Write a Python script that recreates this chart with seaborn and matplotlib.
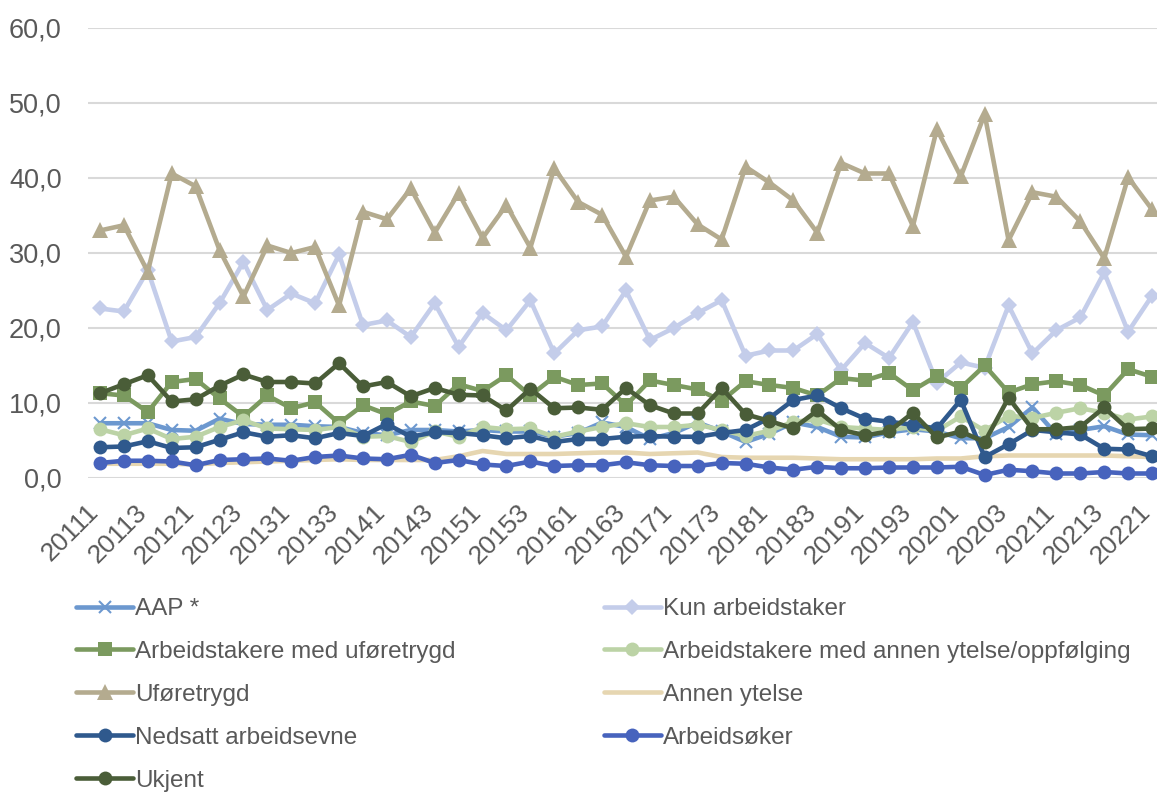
import matplotlib
matplotlib.use("Agg")
import matplotlib.pyplot as plt
import matplotlib.transforms as mtransforms
import numpy as np
import seaborn as sns

quarters = ["20111", "20112", "20113", "20114", "20121", "20122", "20123", "20124",
            "20131", "20132", "20133", "20134", "20141", "20142", "20143", "20144",
            "20151", "20152", "20153", "20154", "20161", "20162", "20163", "20164",
            "20171", "20172", "20173", "20174", "20181", "20182", "20183", "20184",
            "20191", "20192", "20193", "20194", "20201", "20202", "20203", "20204",
            "20211", "20212", "20213", "20214", "20221"]

aap = [7.3, 7.3, 7.3, 6.4, 6.3, 7.9, 7.2, 7.1, 7.1, 6.9, 6.8, 6.0, 5.7, 6.4, 6.4,
       6.2, 6.4, 6.2, 6.2, 5.5, 6.0, 7.4, 6.8, 5.2, 6.0, 7.4, 6.2, 4.8, 5.9, 7.4,
       6.8, 5.5, 5.4, 6.1, 6.5, 6.2, 5.3, 5.3, 6.8, 9.4, 5.8, 6.4, 6.9, 5.8, 5.7]
kun_arbeidstaker = [22.6, 22.2, 27.7, 18.2, 18.8, 23.3, 28.8, 22.4, 24.6, 23.3, 29.8, 20.4, 21.0, 18.8, 23.3,
                    17.5, 22.0, 19.7, 23.7, 16.6, 19.7, 20.2, 25.0, 18.4, 20.0, 22.0, 23.7, 16.3, 17.0, 17.0,
                    19.2, 14.4, 18.0, 16.0, 20.8, 12.7, 15.4, 14.7, 23.0, 16.6, 19.7, 21.4, 27.4, 19.5, 24.3]
arb_ufore = [11.3, 11.0, 8.8, 12.8, 13.2, 10.6, 8.2, 11.0, 9.3, 10.1, 7.3, 9.7, 8.5, 10.2, 9.6,
             12.5, 11.6, 13.7, 11.0, 13.5, 12.4, 12.6, 9.7, 13.0, 12.4, 11.8, 10.3, 12.9, 12.4, 12.0,
             11.0, 13.3, 13.0, 14.0, 11.7, 13.6, 12.0, 15.0, 11.4, 12.5, 12.9, 12.4, 11.0, 14.5, 13.5]
arb_annen = [6.5, 5.7, 6.6, 5.2, 5.5, 6.8, 7.7, 6.6, 6.5, 6.4, 6.8, 5.5, 5.6, 4.8, 6.2,
             5.5, 6.8, 6.5, 6.6, 5.5, 6.2, 6.8, 7.3, 6.8, 6.8, 7.1, 6.4, 5.6, 6.3, 7.5,
             7.8, 6.8, 6.6, 6.4, 6.8, 6.3, 8.2, 6.3, 8.3, 8.0, 8.7, 9.3, 8.7, 7.8, 8.2]
uforetrygd = [33.0, 33.7, 27.5, 40.6, 38.9, 30.4, 24.2, 31.0, 30.0, 30.8, 23.0, 35.5, 34.5, 38.6, 32.7,
              38.0, 32.0, 36.4, 30.7, 41.3, 36.8, 35.1, 29.5, 37.0, 37.5, 33.8, 31.8, 41.5, 39.4, 37.0,
              32.7, 42.0, 40.6, 40.6, 33.6, 46.5, 40.2, 48.5, 31.7, 38.1, 37.5, 34.2, 29.3, 40.1, 35.8]
annen_ytelse = [1.9, 1.9, 1.9, 1.9, 1.8, 2.0, 2.1, 2.2, 2.3, 2.4, 2.5, 2.4, 2.4, 2.4, 2.4,
                2.9, 3.6, 3.2, 3.2, 3.2, 3.3, 3.4, 3.4, 3.2, 3.3, 3.4, 2.8, 2.7, 2.7, 2.7,
                2.6, 2.5, 2.5, 2.5, 2.5, 2.6, 2.6, 2.9, 3.0, 3.0, 3.0, 3.0, 3.0, 2.9, 2.8]
nedsatt = [4.1, 4.2, 4.9, 4.0, 4.1, 5.1, 6.1, 5.5, 5.7, 5.3, 6.0, 5.6, 7.2, 5.5, 6.1,
           6.0, 5.7, 5.3, 5.6, 4.8, 5.2, 5.2, 5.5, 5.6, 5.5, 5.5, 6.0, 6.4, 8.0, 10.4,
           11.0, 9.3, 7.9, 7.5, 7.1, 6.6, 10.4, 2.8, 4.5, 6.4, 6.1, 5.8, 3.9, 3.8, 2.9]
arbeidsoker = [2.0, 2.3, 2.3, 2.2, 1.7, 2.4, 2.5, 2.6, 2.3, 2.8, 3.0, 2.6, 2.5, 3.1, 2.0,
               2.4, 1.8, 1.6, 2.2, 1.6, 1.7, 1.7, 2.1, 1.7, 1.6, 1.6, 2.0, 1.9, 1.4, 1.1,
               1.5, 1.3, 1.3, 1.4, 1.4, 1.4, 1.5, 0.4, 1.1, 0.9, 0.6, 0.6, 0.8, 0.6, 0.6]
ukjent = [11.3, 12.5, 13.7, 10.2, 10.5, 12.3, 13.8, 12.8, 12.8, 12.6, 15.3, 12.2, 12.8, 10.9, 12.0,
          11.1, 11.0, 9.0, 11.9, 9.3, 9.4, 9.1, 12.0, 9.7, 8.6, 8.6, 12.0, 8.5, 7.6, 6.6,
          9.0, 6.4, 5.7, 6.2, 8.7, 5.4, 6.2, 4.8, 10.7, 6.5, 6.5, 6.8, 9.4, 6.5, 6.6]

series = [
    ("AAP *", aap, "#6C98CF", "x", 9, 1.5),
    ("Kun arbeidstaker", kun_arbeidstaker, "#C4CDEA", "D", 8.5, 0),
    ("Arbeidstakere med uføretrygd", arb_ufore, "#7B9A5F", "s", 10, 0),
    ("Arbeidstakere med annen ytelse/oppfølging", arb_annen, "#BCD3A6", "o", 10, 0),
    ("Uføretrygd", uforetrygd, "#B4AB8F", "^", 11.5, 0),
    ("Annen ytelse", annen_ytelse, "#E6D6B1", None, 0, 0),
    ("Nedsatt arbeidsevne", nedsatt, "#2F598D", "o", 10, 0),
    ("Arbeidsøker", arbeidsoker, "#4763BD", "o", 10, 0),
    ("Ukjent", ukjent, "#4A5D38", "o", 10, 0),
]

sns.set_style("white")
plt.rcParams["font.family"] = ["Liberation Sans", "DejaVu Sans"]

fig = plt.figure(figsize=(11.57, 7.92), dpi=100)
ax = fig.add_axes([88 / 1157, 1 - 478 / 792, 1076 / 1157, 450 / 792])

x = np.arange(len(quarters))
for name, vals, col, mk, ms, mew in series:
    sns.lineplot(x=x, y=vals, ax=ax, color=col, linewidth=3.3, marker=mk,
                 markersize=ms, markeredgewidth=mew if mk == "x" else 0,
                 markeredgecolor=col, label=name, clip_on=False)

ax.set_xlim(-0.5, len(quarters) - 0.5)
ax.set_ylim(0, 60)
ax.set_yticks(np.arange(0, 61, 10))
ax.set_yticklabels([f"{v:.1f}".replace(".", ",") for v in np.arange(0, 61, 10)])
ax.set_xticks(x[::2])
ax.set_xticklabels(quarters[::2], rotation=45, ha="right", rotation_mode="anchor", va="center")
ax.tick_params(axis="x", length=0, pad=22, labelsize=19, colors="#595959")
ax.tick_params(axis="y", length=0, pad=19, labelsize=19.5, colors="#595959")
# nudge the rotated labels a bit left so the last one stays inside the picture
shift = mtransforms.ScaledTranslation(-5 / 100, 0, fig.dpi_scale_trans)
for lbl in ax.get_xticklabels():
    lbl.set_transform(lbl.get_transform() + shift)
ax.grid(axis="y", color="#D9D9D9", linewidth=1.5)
ax.set_axisbelow(True)
for s in ax.spines.values():
    s.set_visible(False)

handles, labels = ax.get_legend_handles_labels()
order = [0, 2, 4, 6, 8, 1, 3, 5, 7]
ax.get_legend().remove()
fig.legend([handles[i] for i in order], [labels[i] for i in order],
           loc="upper left", bbox_to_anchor=(76 / 1157, 1 - 598 / 792),
           ncol=2, frameon=False, fontsize=17.5, labelcolor="#595959",
           handlelength=2.35, handletextpad=0.08, columnspacing=6.1,
           labelspacing=0.86, borderpad=0, borderaxespad=0)

fig.savefig("out.png", dpi=100)
